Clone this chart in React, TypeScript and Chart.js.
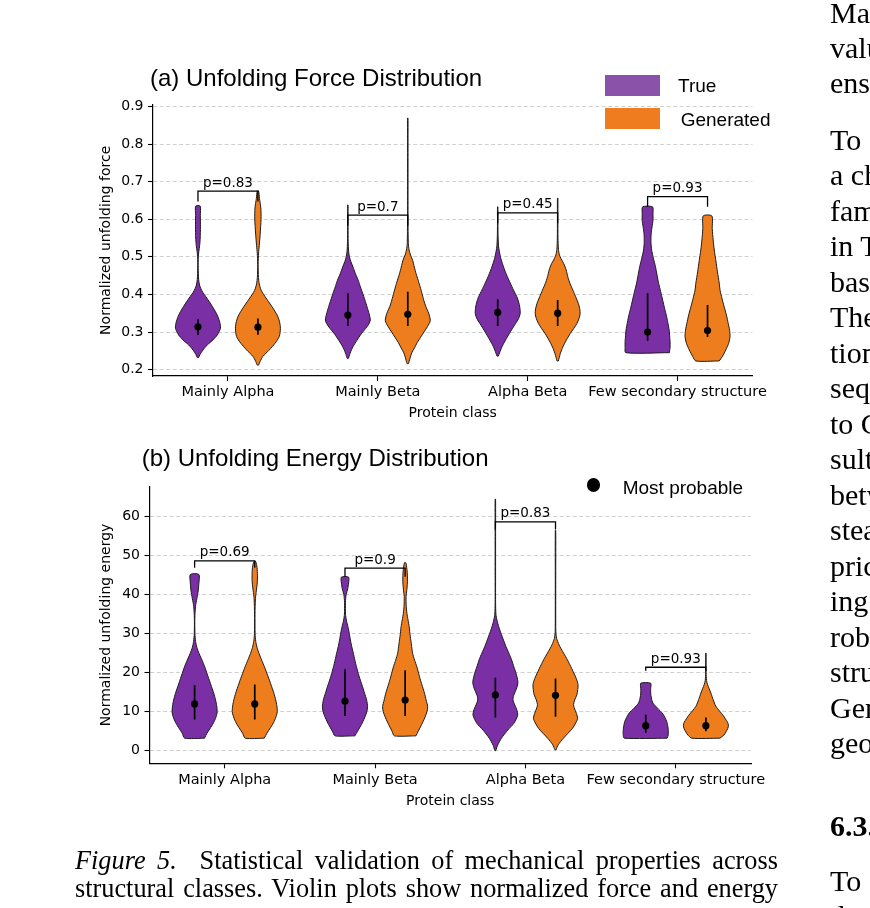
import React, { useEffect, useRef } from 'react';
import { Chart, registerables } from 'chart.js';

Chart.register(...registerables);

// ---------------- data ----------------
const CATEGORIES = ['Mainly Alpha', 'Mainly Beta', 'Alpha Beta', 'Few secondary structure'];
const SERIES = ['True', 'Generated'];

const FORCE_TICKS = [0.2, 0.3, 0.4, 0.5, 0.6, 0.7, 0.8, 0.9];
const ENERGY_TICKS = [0, 10, 20, 30, 40, 50, 60];

type Profile = [number, number][]; // [value, relative density (0..1)]

const FORCE_TRUE_PROFILES: Profile[] = [
  [[0.232, 0.03], [0.24, 0.09], [0.252, 0.22], [0.266, 0.42], [0.279, 0.67], [0.292, 0.86], [0.31, 1.0], [0.326, 0.97], [0.342, 0.88], [0.355, 0.77], [0.368, 0.64], [0.381, 0.5], [0.394, 0.35], [0.405, 0.22], [0.415, 0.13], [0.425, 0.07], [0.44, 0.03], [0.47, 0.01], [0.5, 0.015], [0.515, 0.04], [0.53, 0.075], [0.55, 0.1], [0.58, 0.11], [0.61, 0.105], [0.635, 0.1]],
  [[0.23, 0.03], [0.24, 0.08], [0.248, 0.13], [0.26, 0.22], [0.27, 0.32], [0.284, 0.47], [0.297, 0.62], [0.31, 0.8], [0.322, 0.94], [0.332, 1.0], [0.345, 0.96], [0.358, 0.9], [0.368, 0.85], [0.385, 0.76], [0.403, 0.66], [0.42, 0.56], [0.438, 0.46], [0.455, 0.34], [0.473, 0.23], [0.488, 0.13], [0.5, 0.07], [0.515, 0.035], [0.54, 0.015], [0.58, 0.01], [0.62, 0.01], [0.638, 0.01]],
  [[0.236, 0.03], [0.244, 0.08], [0.252, 0.13], [0.262, 0.2], [0.27, 0.27], [0.283, 0.39], [0.296, 0.52], [0.31, 0.66], [0.323, 0.8], [0.336, 0.93], [0.349, 1.0], [0.367, 0.98], [0.38, 0.93], [0.394, 0.85], [0.412, 0.7], [0.43, 0.56], [0.447, 0.43], [0.465, 0.31], [0.482, 0.21], [0.5, 0.12], [0.515, 0.07], [0.53, 0.035], [0.56, 0.015], [0.6, 0.01], [0.633, 0.01]],
  [[0.245, 0.97], [0.26, 1.0], [0.275, 1.0], [0.29, 0.98], [0.305, 0.96], [0.322, 0.91], [0.34, 0.85], [0.362, 0.76], [0.385, 0.67], [0.408, 0.58], [0.43, 0.49], [0.452, 0.42], [0.474, 0.35], [0.496, 0.26], [0.518, 0.18], [0.54, 0.15], [0.562, 0.16], [0.58, 0.2], [0.597, 0.24], [0.615, 0.24], [0.633, 0.22]],
];

const FORCE_GEN_PROFILES: Profile[] = [
  [[0.212, 0.03], [0.222, 0.1], [0.235, 0.22], [0.252, 0.5], [0.27, 0.76], [0.288, 0.95], [0.31, 1.0], [0.328, 0.96], [0.342, 0.88], [0.355, 0.76], [0.368, 0.62], [0.381, 0.47], [0.394, 0.32], [0.405, 0.2], [0.415, 0.12], [0.428, 0.06], [0.445, 0.025], [0.48, 0.01], [0.51, 0.03], [0.53, 0.06], [0.56, 0.1], [0.6, 0.14], [0.63, 0.13], [0.655, 0.07], [0.675, 0.03]],
  [[0.216, 0.03], [0.228, 0.09], [0.245, 0.18], [0.258, 0.3], [0.272, 0.42], [0.286, 0.57], [0.3, 0.72], [0.315, 0.88], [0.33, 1.0], [0.35, 0.93], [0.368, 0.8], [0.385, 0.71], [0.403, 0.63], [0.42, 0.55], [0.438, 0.46], [0.455, 0.37], [0.473, 0.29], [0.49, 0.22], [0.505, 0.12], [0.518, 0.06], [0.535, 0.025], [0.6, 0.01], [0.7, 0.01], [0.8, 0.01], [0.869, 0.01]],
  [[0.223, 0.03], [0.232, 0.07], [0.243, 0.12], [0.256, 0.2], [0.27, 0.31], [0.283, 0.43], [0.296, 0.56], [0.31, 0.72], [0.323, 0.86], [0.336, 0.95], [0.349, 1.0], [0.362, 0.98], [0.376, 0.92], [0.394, 0.8], [0.411, 0.68], [0.429, 0.55], [0.447, 0.45], [0.465, 0.38], [0.482, 0.27], [0.495, 0.15], [0.505, 0.08], [0.52, 0.035], [0.55, 0.015], [0.6, 0.01], [0.656, 0.01]],
  [[0.223, 0.52], [0.235, 0.66], [0.252, 0.81], [0.27, 0.94], [0.288, 1.0], [0.305, 0.98], [0.323, 0.92], [0.345, 0.84], [0.367, 0.74], [0.39, 0.64], [0.41, 0.56], [0.43, 0.52], [0.46, 0.44], [0.49, 0.37], [0.518, 0.3], [0.545, 0.25], [0.575, 0.21], [0.609, 0.19]],
];

const FORCE_TRUE_MEDIAN = [0.314, 0.345, 0.352, 0.3];
const FORCE_TRUE_Q1 = [0.292, 0.316, 0.316, 0.277];
const FORCE_TRUE_Q3 = [0.334, 0.403, 0.387, 0.403];
const FORCE_GEN_MEDIAN = [0.313, 0.347, 0.35, 0.304];
const FORCE_GEN_Q1 = [0.293, 0.316, 0.316, 0.287];
const FORCE_GEN_Q3 = [0.336, 0.407, 0.385, 0.372];

const FORCE_P_LABELS = ['p=0.83', 'p=0.7', 'p=0.45', 'p=0.93'];
const FORCE_BRACKET_Y = [0.675, 0.611, 0.617, 0.66];
const FORCE_BRACKET_DROP = [0.028, 0.028, 0.028, 0.027];

const ENERGY_TRUE_PROFILES: Profile[] = [
  [[3.2, 0.44], [4.5, 0.55], [6.0, 0.72], [7.5, 0.87], [9.0, 0.97], [10.0, 1.0], [11.5, 0.98], [13, 0.93], [14.7, 0.85], [16.4, 0.75], [18.1, 0.65], [19.8, 0.55], [21.5, 0.45], [23.2, 0.33], [24.9, 0.2], [26.5, 0.1], [28, 0.045], [30, 0.015], [34, 0.01], [37, 0.04], [39, 0.1], [41, 0.16], [43, 0.19], [45.2, 0.19]],
  [[3.8, 0.44], [5, 0.56], [6.1, 0.67], [7.4, 0.79], [8.7, 0.89], [10, 0.97], [11.3, 1.0], [13, 0.96], [14.7, 0.87], [16.4, 0.78], [18.1, 0.68], [19.8, 0.59], [21.5, 0.51], [23.2, 0.44], [25, 0.37], [26.7, 0.3], [28.4, 0.24], [30.1, 0.19], [31.8, 0.13], [33.5, 0.06], [35, 0.025], [38, 0.02], [40, 0.05], [41.5, 0.12], [43, 0.16], [44.5, 0.16]],
  [[0, 0.02], [1.4, 0.1], [3.2, 0.27], [5.3, 0.55], [7.0, 0.82], [9.1, 0.99], [10.5, 0.95], [12, 0.84], [13, 0.78], [14, 0.8], [15.1, 0.88], [16.5, 0.97], [17.7, 1.0], [19.8, 0.92], [21.5, 0.82], [23.3, 0.72], [25, 0.6], [26.7, 0.47], [28.4, 0.36], [30.1, 0.25], [31.8, 0.15], [33.5, 0.07], [35, 0.025], [38, 0.01], [45, 0.01], [55, 0.01], [64.5, 0.01]],
  [[3.2, 0.95], [4.1, 1.0], [5.8, 0.99], [7.5, 0.93], [8.5, 0.85], [9.6, 0.74], [10.9, 0.52], [12.2, 0.32], [13.5, 0.25], [14.8, 0.22], [16, 0.22], [17.3, 0.22]],
];

const ENERGY_GEN_PROFILES: Profile[] = [
  [[3.2, 0.42], [4.5, 0.54], [6.0, 0.71], [7.5, 0.86], [9.0, 0.96], [10.0, 1.0], [11.5, 0.98], [13, 0.93], [14.7, 0.85], [16.4, 0.75], [18.1, 0.65], [19.8, 0.54], [21.5, 0.43], [23.2, 0.31], [24.9, 0.19], [26.5, 0.1], [28, 0.045], [30, 0.015], [35, 0.01], [39, 0.03], [41, 0.07], [43, 0.11], [45, 0.12], [47, 0.1], [48.5, 0.04]],
  [[3.8, 0.48], [5, 0.58], [6.1, 0.68], [7.4, 0.79], [8.7, 0.89], [10, 0.97], [11.3, 1.0], [13, 0.93], [14.7, 0.86], [16.4, 0.77], [18.1, 0.68], [19.8, 0.6], [21.5, 0.52], [23.2, 0.42], [25, 0.33], [26.7, 0.29], [28.4, 0.25], [30.1, 0.21], [31.8, 0.18], [33.5, 0.13], [35.2, 0.08], [37, 0.05], [39.5, 0.04], [41, 0.07], [43, 0.1], [45, 0.1], [46.5, 0.08], [48.2, 0.03]],
  [[0.2, 0.02], [1.5, 0.12], [3.2, 0.35], [5.7, 0.75], [7.5, 0.93], [8.3, 0.98], [9.5, 0.93], [11, 0.83], [11.8, 0.8], [13, 0.85], [14.4, 0.95], [16.9, 1.0], [18.5, 0.92], [20.3, 0.78], [22, 0.64], [23.7, 0.49], [25.4, 0.32], [27.1, 0.16], [28.8, 0.05], [30.5, 0.015], [35, 0.01], [45, 0.01], [56.5, 0.01]],
  [[3.2, 0.62], [4.0, 0.8], [4.8, 0.89], [5.7, 0.97], [6.5, 1.0], [7.3, 0.96], [8.2, 0.86], [9.0, 0.77], [10.2, 0.6], [11.4, 0.44], [13.1, 0.32], [14.8, 0.22], [16, 0.14], [17, 0.07], [18, 0.03], [20, 0.01], [25, 0.01]],
];

const ENERGY_TRUE_MEDIAN = [12.0, 12.7, 14.3, 6.4];
const ENERGY_TRUE_Q1 = [8.0, 8.9, 8.5, 4.6];
const ENERGY_TRUE_Q3 = [16.8, 20.9, 18.7, 9.2];
const ENERGY_GEN_MEDIAN = [12.0, 13.0, 14.2, 6.4];
const ENERGY_GEN_Q1 = [8.0, 8.9, 8.7, 5.0];
const ENERGY_GEN_Q3 = [17.0, 20.6, 18.5, 8.5];

const ENERGY_P_LABELS = ['p=0.69', 'p=0.9', 'p=0.83', 'p=0.93'];
const ENERGY_BRACKET_Y = [48.7, 46.8, 58.7, 21.4];
const ENERGY_BRACKET_DROP = [1.8, 2.2, 2.0, 0.9];

// ---------------- styles ----------------
const TRUE_FILL = '#7b2fa5';
const GEN_FILL = '#ee7e1d';
const TRUE_LEGEND = '#8a53a9';
const GEN_LEGEND = '#f07c20';
const EDGE = '#1c1c1c';
const GRID = 'rgba(160,160,160,0.55)';
const SIDE_OFFSET = 0.2;
const HALF_WIDTH = 0.15;
const AXIS_FONT = 'DejaVu Sans';
const SANS = '"Liberation Sans", Arial, sans-serif';
const SERIF = '"Liberation Serif", "Times New Roman", serif';

type PanelSpec = {
  top: number;
  height: number;
  yWidth: number;
  right: number;
  areaTop: number;
  areaBottom: number;
  yMin: number;
  yMax: number;
  ticks: number[];
  tickFmt: (v: number) => string;
  yTitle: string;
  trueProfiles: Profile[];
  genProfiles: Profile[];
  trueMed: number[];
  trueQ1: number[];
  trueQ3: number[];
  genMed: number[];
  genQ1: number[];
  genQ3: number[];
  pLabels: string[];
  bracketY: number[];
  bracketDrop: number[];
};

const PANEL_A: PanelSpec = {
  top: 0, height: 440, yWidth: 153, right: 752.5, areaTop: 104.6, areaBottom: 376,
  yMin: 0.183, yMax: 0.905, ticks: FORCE_TICKS, tickFmt: (v) => v.toFixed(1),
  yTitle: 'Normalized unfolding force',
  trueProfiles: FORCE_TRUE_PROFILES, genProfiles: FORCE_GEN_PROFILES,
  trueMed: FORCE_TRUE_MEDIAN, trueQ1: FORCE_TRUE_Q1, trueQ3: FORCE_TRUE_Q3,
  genMed: FORCE_GEN_MEDIAN, genQ1: FORCE_GEN_Q1, genQ3: FORCE_GEN_Q3,
  pLabels: FORCE_P_LABELS, bracketY: FORCE_BRACKET_Y, bracketDrop: FORCE_BRACKET_DROP,
};

const PANEL_B: PanelSpec = {
  top: 440, height: 468, yWidth: 149.5, right: 751, areaTop: 46.7, areaBottom: 323.3,
  yMin: -3.24, yMax: 67.7, ticks: ENERGY_TICKS, tickFmt: (v) => String(Math.round(v)),
  yTitle: 'Normalized unfolding energy',
  trueProfiles: ENERGY_TRUE_PROFILES, genProfiles: ENERGY_GEN_PROFILES,
  trueMed: ENERGY_TRUE_MEDIAN, trueQ1: ENERGY_TRUE_Q1, trueQ3: ENERGY_TRUE_Q3,
  genMed: ENERGY_GEN_MEDIAN, genQ1: ENERGY_GEN_Q1, genQ3: ENERGY_GEN_Q3,
  pLabels: ENERGY_P_LABELS, bracketY: ENERGY_BRACKET_Y, bracketDrop: ENERGY_BRACKET_DROP,
};

const X_SCALE_HEIGHT = 46;

function violinOutline(profile: Profile, center: number) {
  const right = profile.map(([v, w]) => ({ x: center + w * HALF_WIDTH, y: v }));
  const left = profile
    .slice()
    .reverse()
    .map(([v, w]) => ({ x: center - w * HALF_WIDTH, y: v }));
  return [...right, ...left, right[0]];
}

const pLabelPlugin = {
  id: 'pLabels',
  afterDatasetsDraw(chart: any, _args: any, opts: any) {
    const { ctx, scales } = chart;
    ctx.save();
    ctx.font = `13.5px "${AXIS_FONT}"`;
    ctx.fillStyle = '#000';
    ctx.textAlign = 'center';
    ctx.textBaseline = 'alphabetic';
    (opts.labels as string[]).forEach((t, i) => {
      ctx.fillText(t, scales.x.getPixelForValue(i), scales.y.getPixelForValue(opts.y[i]) - 4.5);
    });
    ctx.restore();
  },
};

function buildConfig(p: PanelSpec): any {
  const datasets: any[] = [];
  CATEGORIES.forEach((_, i) => {
    datasets.push({
      label: SERIES[0],
      data: violinOutline(p.trueProfiles[i], i - SIDE_OFFSET),
      backgroundColor: TRUE_FILL,
      borderColor: EDGE,
      borderWidth: 1,
      fill: 'shape',
      tension: 0.25,
      pointRadius: 0,
      order: 5,
    });
    datasets.push({
      label: SERIES[1],
      data: violinOutline(p.genProfiles[i], i + SIDE_OFFSET),
      backgroundColor: GEN_FILL,
      borderColor: EDGE,
      borderWidth: 1,
      fill: 'shape',
      tension: 0.25,
      pointRadius: 0,
      order: 5,
    });
  });

  const brackets: any[] = [];
  const iqr: any[] = [];
  const dots: any[] = [];
  CATEGORIES.forEach((_, i) => {
    const xl = i - SIDE_OFFSET;
    const xr = i + SIDE_OFFSET;
    const by = p.bracketY[i];
    const bd = p.bracketDrop[i];
    brackets.push({ x: xl, y: by - bd }, { x: xl, y: by }, { x: xr, y: by }, { x: xr, y: by - bd }, { x: xr, y: null });
    iqr.push({ x: xl, y: p.trueQ1[i] }, { x: xl, y: p.trueQ3[i] }, { x: xl, y: null });
    iqr.push({ x: xr, y: p.genQ1[i] }, { x: xr, y: p.genQ3[i] }, { x: xr, y: null });
    dots.push({ x: xl, y: p.trueMed[i] }, { x: xr, y: p.genMed[i] });
  });

  datasets.push({
    label: 'brackets', data: brackets, borderColor: '#000', borderWidth: 1.3, fill: false,
    spanGaps: false, pointRadius: 0, tension: 0, order: 3,
  });
  datasets.push({
    label: 'iqr', data: iqr, borderColor: '#000', borderWidth: 1.7, fill: false,
    spanGaps: false, pointRadius: 0, tension: 0, order: 2,
  });
  datasets.push({
    label: 'Most probable', data: dots, showLine: false, pointRadius: 3.6,
    pointBackgroundColor: '#000', pointBorderWidth: 0, order: 1,
  });

  const tickFont = { family: AXIS_FONT, size: 14.5 };
  const titleFont = { family: AXIS_FONT, size: 14 };

  return {
    type: 'line',
    data: { datasets },
    plugins: [pLabelPlugin],
    options: {
      responsive: false,
      animation: false,
      events: [],
      devicePixelRatio: 1,
      layout: {
        padding: {
          left: 0,
          right: 870 - p.right,
          top: p.areaTop,
          bottom: p.height - p.areaBottom - X_SCALE_HEIGHT,
        },
      },
      plugins: {
        legend: { display: false },
        title: { display: false },
        tooltip: { enabled: false },
        pLabels: { labels: p.pLabels, y: p.bracketY },
      },
      scales: {
        x: {
          type: 'linear',
          min: -0.5,
          max: 3.5,
          afterBuildTicks: (s: any) => {
            s.ticks = CATEGORIES.map((_, i) => ({ value: i }));
          },
          afterFit: (s: any) => {
            s.height = X_SCALE_HEIGHT;
          },
          ticks: {
            callback: (v: any) => CATEGORIES[Math.round(v)],
            color: '#000',
            font: tickFont,
            padding: 3,
            maxRotation: 0,
            minRotation: 0,
            autoSkip: false,
          },
          grid: {
            drawOnChartArea: false,
            drawTicks: true,
            tickLength: 5,
            tickColor: '#000',
            tickWidth: 1.1,
          },
          border: { display: true, color: '#000', width: 1.2 },
          title: {
            display: true,
            text: 'Protein class',
            color: '#000',
            font: titleFont,
            padding: { top: 0, bottom: 0 },
          },
        },
        y: {
          type: 'linear',
          min: p.yMin,
          max: p.yMax,
          afterBuildTicks: (s: any) => {
            s.ticks = p.ticks.map((v) => ({ value: v }));
          },
          afterFit: (s: any) => {
            s.width = p.yWidth;
          },
          ticks: {
            callback: (v: any) => p.tickFmt(Number(v)),
            color: '#000',
            font: { family: AXIS_FONT, size: 14 },
            padding: 4.5,
            autoSkip: false,
          },
          grid: {
            color: GRID,
            lineWidth: 0.9,
            drawTicks: true,
            tickLength: 5,
            tickColor: '#000',
            tickWidth: 1.1,
            tickBorderDash: [],
          },
          border: { display: true, color: '#000', width: 1.2, dash: [4, 2.5] },
          title: {
            display: true,
            text: p.yTitle,
            color: '#000',
            font: titleFont,
            padding: { top: 98.3, bottom: 0 },
          },
        },
      },
    },
  };
}

function Panel({ spec }: { spec: PanelSpec }) {
  const ref = useRef<HTMLCanvasElement | null>(null);
  useEffect(() => {
    if (!ref.current) return;
    const chart = new Chart(ref.current, buildConfig(spec));
    return () => chart.destroy();
  }, [spec]);
  return (
    <canvas
      ref={ref}
      width={870}
      height={spec.height}
      style={{ position: 'absolute', left: 0, top: spec.top, width: 870, height: spec.height }}
    />
  );
}

const RIGHT_LINES: { t: string; base: number; bold?: boolean }[] = [
  { t: 'Ma', base: 23 },
  { t: 'valu', base: 58 },
  { t: 'ens', base: 93 },
  { t: 'To', base: 150 },
  { t: 'a ch', base: 185.5 },
  { t: 'fam', base: 221 },
  { t: 'in T', base: 256.5 },
  { t: 'bas', base: 292 },
  { t: 'The', base: 327.5 },
  { t: 'tion', base: 363 },
  { t: 'seq', base: 398.5 },
  { t: 'to C', base: 434 },
  { t: 'sult', base: 469.5 },
  { t: 'betw', base: 505 },
  { t: 'stea', base: 540.5 },
  { t: 'pric', base: 576 },
  { t: 'ing', base: 611.5 },
  { t: 'rob', base: 647 },
  { t: 'stru', base: 682.5 },
  { t: 'Gen', base: 718 },
  { t: 'geo', base: 753.5 },
  { t: '6.3.', base: 836, bold: true },
  { t: 'To', base: 891 },
  { t: 'd', base: 926.5 },
];

const abs = (left: number, top: number, extra: React.CSSProperties = {}): React.CSSProperties => ({
  position: 'absolute',
  left,
  top,
  whiteSpace: 'nowrap',
  ...extra,
});

export default function App() {
  const titleStyle: React.CSSProperties = { fontFamily: SANS, fontSize: 24, lineHeight: '24px', color: '#000' };
  const legendText: React.CSSProperties = { fontFamily: SANS, fontSize: 19, lineHeight: '19px', color: '#000' };
  const captionLine: React.CSSProperties = {
    position: 'absolute',
    left: 75,
    width: 703,
    fontFamily: SERIF,
    fontSize: 26.3,
    lineHeight: '28px',
    textAlign: 'justify',
    textAlignLast: 'justify' as any,
    color: '#000',
  };
  return (
    <div
      style={{
        position: 'absolute',
        left: 0,
        top: 0,
        width: 870,
        height: 908,
        overflow: 'hidden',
        background: '#fff',
      }}
    >
      <Panel spec={PANEL_A} />
      <Panel spec={PANEL_B} />

      <div style={abs(150, 66.4, titleStyle)}>(a) Unfolding Force Distribution</div>
      <div style={abs(141.7, 445.7, titleStyle)}>(b) Unfolding Energy Distribution</div>

      <div style={abs(605, 75, { width: 55, height: 21, background: TRUE_LEGEND })} />
      <div style={abs(605, 108.3, { width: 54.5, height: 21, background: GEN_LEGEND })} />
      <div style={abs(678, 76.4, legendText)}>{SERIES[0]}</div>
      <div style={abs(680.7, 109.7, legendText)}>{SERIES[1]}</div>

      <div style={abs(586.6, 478.3, { width: 13.4, height: 13.4, borderRadius: '50%', background: '#000' })} />
      <div style={abs(622.7, 478.4, legendText)}>Most probable</div>

      <div style={{ ...captionLine, top: 847 }}>
        <i>Figure 5.</i>&nbsp; Statistical validation of mechanical properties across
      </div>
      <div style={{ ...captionLine, top: 875 }}>
        structural classes. Violin plots show normalized force and energy
      </div>

      {RIGHT_LINES.map((l, i) => (
        <div
          key={i}
          style={abs(830, l.base - 25.1, {
            fontFamily: SERIF,
            fontSize: 30,
            lineHeight: '30px',
            fontWeight: l.bold ? 700 : 400,
            color: '#000',
          })}
        >
          {l.t}
        </div>
      ))}
    </div>
  );
}
